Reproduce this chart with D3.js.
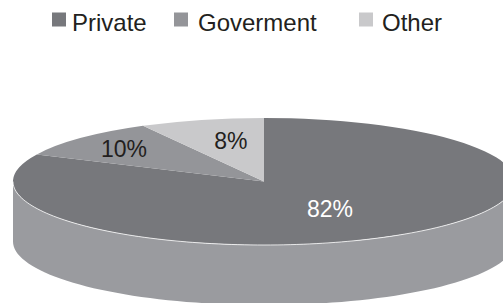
<!DOCTYPE html>
<html>
<head>
<meta charset="utf-8">
<script src="https://cdn.jsdelivr.net/npm/d3@7"></script>
<style>
html,body{margin:0;padding:0;background:#fff;}
svg{display:block;}
</style>
</head>
<body>
<svg id="chart" width="503" height="303"></svg>
<script>
const categories = ["Private", "Goverment", "Other"];
const values = [82, 10, 8];
const labels = ["82%", "10%", "8%"];
const topColors = ["#77787c", "#949599", "#c9c9cb"];
const sideColors = ["#9a9b9f", "#a9aaae", "#d4d4d6"];

const svg = d3.select("#chart");
const W = 503, H = 303;
const cx = 264, cy = 181.5, rx = 251, ry = 63.5, depth = 60;
const font = "'Liberation Sans', Arial, Helvetica, sans-serif";

const pie = d3.pie().sort(null).value(d => d).startAngle(0).endAngle(2 * Math.PI);
const arcs = pie(values);

// projection of angle (clockwise from top) to ellipse point
const px = (a, k = 1) => cx + rx * k * Math.sin(a);
const py = (a, k = 1) => cy - ry * k * Math.cos(a);

// sides (front half only: angles between PI/2 and 3PI/2)
const sideG = svg.append("g");
arcs.forEach((d, i) => {
  const a0 = Math.max(d.startAngle, Math.PI / 2);
  const a1 = Math.min(d.endAngle, 3 * Math.PI / 2);
  if (a1 <= a0) return;
  const n = 80;
  const angs = d3.range(n + 1).map(j => a0 + (a1 - a0) * j / n);
  const p = d3.path();
  angs.forEach((a, j) => { if (j === 0) p.moveTo(px(a), py(a)); else p.lineTo(px(a), py(a)); });
  angs.slice().reverse().forEach(a => p.lineTo(px(a), py(a) + depth));
  p.closePath();
  sideG.append("path").attr("d", p.toString()).attr("fill", sideColors[i]);
});

// top faces via d3.arc on unit circle scaled to ellipse
const arcGen = d3.arc().innerRadius(0).outerRadius(1);
const topG = svg.append("g").attr("transform", `translate(${cx},${cy}) scale(${rx},${ry})`);
topG.selectAll("path").data(arcs).join("path")
  .attr("d", arcGen)
  .attr("fill", (d, i) => topColors[i]);

// white highlight along the front rim
{
  const n = 120;
  const p = d3.path();
  d3.range(n + 1).forEach(j => {
    const a = Math.PI / 2 + Math.PI * j / n;
    if (j === 0) p.moveTo(px(a), py(a)); else p.lineTo(px(a), py(a));
  });
  svg.append("path").attr("d", p.toString()).attr("fill", "none")
    .attr("stroke", "#ffffff").attr("stroke-width", 0.9).attr("opacity", 0.85);
}

// labels
const labelK = [[0.49, 0.5], [0.765, 0.76], [0.53, 0.66]];
const labelFill = ["#ffffff", "#231f20", "#231f20"];
svg.append("g").selectAll("text").data(arcs).join("text")
  .attr("x", (d, i) => px((d.startAngle + d.endAngle) / 2, labelK[i][0]))
  .attr("y", (d, i) => py((d.startAngle + d.endAngle) / 2, labelK[i][1]))
  .attr("dy", "0.36em")
  .attr("text-anchor", "middle")
  .attr("font-family", font)
  .attr("font-size", 23)
  .attr("fill", (d, i) => labelFill[i])
  .text((d, i) => labels[i]);

// legend
const legX = [52, 174, 359];
const leg = svg.append("g").selectAll("g").data(categories).join("g")
  .attr("transform", (d, i) => `translate(${legX[i]},0)`);
leg.append("rect").attr("x", 0).attr("y", 12.5).attr("width", 14).attr("height", 14)
  .attr("fill", (d, i) => topColors[i]);
leg.append("text").attr("x", (d, i) => i === 1 ? 24 : (i === 0 ? 20 : 23)).attr("y", 31)
  .attr("font-family", font).attr("font-size", 24).attr("fill", "#231f20")
  .text(d => d);
</script>
</body>
</html>
